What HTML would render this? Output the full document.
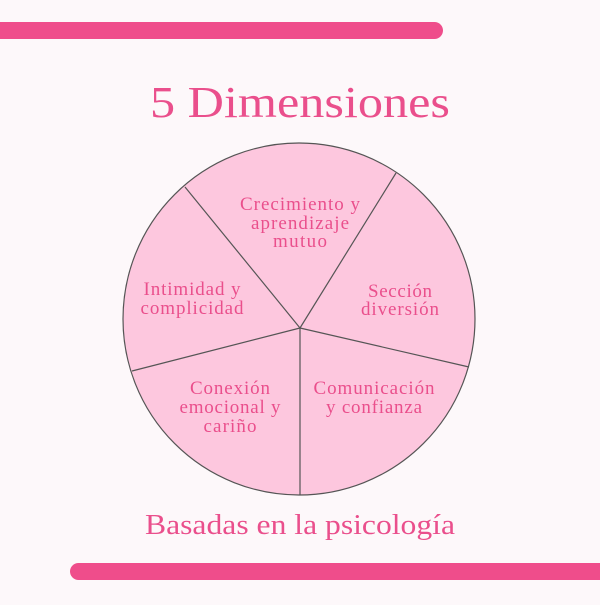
<!DOCTYPE html>
<html><head><meta charset="utf-8"><style>
body{margin:0;width:600px;height:600px;background:#fdf8fa;overflow:hidden;font-family:"Liberation Serif",serif}
</style></head><body>
<svg width="600" height="600" viewBox="0 0 600 600" xmlns="http://www.w3.org/2000/svg">
<rect width="600" height="600" fill="#fdf8fa"/>
<rect x="-10" y="22" width="453" height="17" rx="8.5" fill="#ef4d8b"/>
<rect x="70" y="563" width="545" height="17" rx="8.5" fill="#ef4d8b"/>
<text x="300" y="117" text-anchor="middle" font-size="44" fill="#ea4f8c" textLength="300" lengthAdjust="spacingAndGlyphs">5 Dimensiones</text>
<circle cx="299" cy="319" r="176" fill="#fdc7de" stroke="#555" stroke-width="1.2"/>
<g stroke="#555" stroke-width="1.2">
<line x1="300" y1="328" x2="185" y2="187"/>
<line x1="300" y1="328" x2="396" y2="173"/>
<line x1="300" y1="328" x2="469" y2="367"/>
<line x1="300" y1="328" x2="300" y2="495"/>
<line x1="300" y1="328" x2="132" y2="371"/>
</g>
<g font-size="19" fill="#ea4f8c" text-anchor="middle" lengthAdjust="spacingAndGlyphs">
<text x="300" y="210" textLength="120">Crecimiento y</text>
<text x="300" y="229" textLength="98">aprendizaje</text>
<text x="300" y="247" textLength="54">mutuo</text>
<text x="192" y="295" textLength="97">Intimidad y</text>
<text x="192" y="314" textLength="103">complicidad</text>
<text x="400" y="297" textLength="64">Sección</text>
<text x="400" y="315" textLength="78">diversión</text>
<text x="374" y="394" textLength="121">Comunicación</text>
<text x="374" y="413" textLength="96">y confianza</text>
<text x="230" y="394" textLength="80">Conexión</text>
<text x="230" y="413" textLength="101">emocional y</text>
<text x="230" y="432" textLength="53">cariño</text>
</g>
<text x="300" y="534" text-anchor="middle" font-size="29" fill="#ea4f8c" textLength="310" lengthAdjust="spacingAndGlyphs">Basadas en la psicología</text>
</svg>
</body></html>
